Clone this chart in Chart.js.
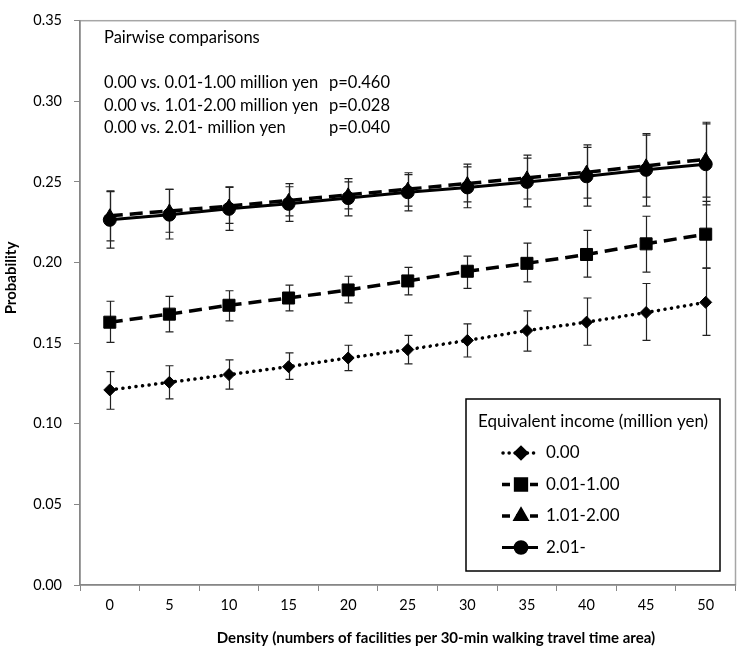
<!DOCTYPE html>
<html>
<head>
<meta charset="utf-8">
<script src="https://cdn.jsdelivr.net/npm/chart.js@4"></script>
<style>
  html, body { margin: 0; padding: 0; background: #fff; }
  #wrap { width: 745px; height: 650px; }
</style>
</head>
<body>
<div id="wrap"><canvas id="chart" width="745" height="650"></canvas></div>
<script>
// ----------------------------------------------------
// Data
// ----------------------------------------------------
const densities = ['0', '5', '10', '15', '20', '25', '30', '35', '40', '45', '50'];

const income000 = [0.121, 0.1257, 0.1305, 0.1354, 0.1408, 0.146, 0.1517, 0.1578, 0.163, 0.169, 0.1753];
const income000Lo = [0.109, 0.1155, 0.1215, 0.1275, 0.133, 0.1372, 0.1414, 0.145, 0.1487, 0.1517, 0.1548];
const income000Hi = [0.1324, 0.136, 0.1396, 0.144, 0.1487, 0.1548, 0.162, 0.170, 0.178, 0.187, 0.1965];

const income001 = [0.163, 0.168, 0.1735, 0.178, 0.183, 0.1886, 0.1946, 0.1995, 0.205, 0.2116, 0.2176];
const income001Lo = [0.1505, 0.157, 0.1638, 0.170, 0.175, 0.180, 0.184, 0.188, 0.191, 0.194, 0.1965];
const income001Hi = [0.176, 0.179, 0.1825, 0.186, 0.1915, 0.197, 0.204, 0.212, 0.220, 0.2287, 0.238];

const income101 = [0.229, 0.232, 0.235, 0.2385, 0.242, 0.2455, 0.249, 0.2525, 0.256, 0.260, 0.264];
const income101Lo = [0.2134, 0.2188, 0.2243, 0.229, 0.2333, 0.235, 0.2376, 0.2394, 0.240, 0.2406, 0.2406];
const income101Hi = [0.2445, 0.2454, 0.247, 0.249, 0.252, 0.2557, 0.261, 0.2666, 0.273, 0.280, 0.287];

const income201 = [0.2265, 0.2297, 0.2333, 0.2364, 0.240, 0.2436, 0.2466, 0.250, 0.2535, 0.2575, 0.261];
const income201Lo = [0.209, 0.2146, 0.220, 0.2255, 0.229, 0.232, 0.234, 0.2345, 0.235, 0.235, 0.2358];
const income201Hi = [0.244, 0.2454, 0.2466, 0.247, 0.250, 0.2545, 0.2593, 0.2648, 0.2714, 0.279, 0.286];

const seriesLabels = ['0.00', '0.01-1.00', '1.01-2.00', '2.01-'];
const legendTitle = 'Equivalent income (million yen)';

const noteTitle = 'Pairwise comparisons';
const comparisons = ['0.00 vs. 0.01-1.00 million yen', '0.00 vs. 1.01-2.00 million yen', '0.00 vs. 2.01- million yen'];
const pValues = ['p=0.460', 'p=0.028', 'p=0.040'];

const xTitle = 'Density (numbers of facilities per 30-min walking travel time area)';
const yTitle = 'Probability';

const FONT = 'Lato, "Open Sans", sans-serif';

// ----------------------------------------------------
// Datasets
// ----------------------------------------------------
const lows = [income000Lo, income001Lo, income101Lo, income201Lo];
const highs = [income000Hi, income001Hi, income101Hi, income201Hi];

const datasets = [
    {
        label: seriesLabels[0], data: income000, order: 3,
        borderColor: '#000', backgroundColor: '#000', borderWidth: 3.5,
        borderDash: [0.1, 6.5], borderCapStyle: 'round',
        pointStyle: 'rectRot', pointRadius: 6, pointBorderWidth: 1
    },
    {
        label: seriesLabels[1], data: income001, order: 2,
        borderColor: '#000', backgroundColor: '#000', borderWidth: 3.5,
        borderDash: [13, 7],
        pointStyle: 'rect', pointRadius: 8.5, pointBorderWidth: 1
    },
    {
        label: seriesLabels[2], data: income101, order: 1,
        borderColor: '#000', backgroundColor: '#000', borderWidth: 3.5,
        borderDash: [13, 7],
        pointStyle: 'triangle', pointRadius: 7, pointBorderWidth: 1
    },
    {
        label: seriesLabels[3], data: income201, order: 0,
        borderColor: '#000', backgroundColor: '#000', borderWidth: 3,
        pointStyle: 'circle', pointRadius: 6.5, pointBorderWidth: 1
    }
];
datasets.forEach(d => { d.tension = 0; d.pointHoverRadius = d.pointRadius; });

// ----------------------------------------------------
// Plugins: error bars, frame, notes, legend box
// ----------------------------------------------------
const errorBars = {
    id: 'errorBars',
    beforeDatasetsDraw(chart) {
        const ctx = chart.ctx;
        const xs = chart.scales.x;
        const ys = chart.scales.y;
        ctx.save();
        ctx.strokeStyle = '#222';
        ctx.lineWidth = 1.2;
        lows.forEach((lo, s) => {
            lo.forEach((v, i) => {
                const x = Math.round(xs.getPixelForValue(i)) + 0.5;
                const y1 = ys.getPixelForValue(v);
                const y2 = ys.getPixelForValue(highs[s][i]);
                ctx.beginPath();
                ctx.moveTo(x, y1); ctx.lineTo(x, y2);
                ctx.moveTo(x - 4, y1); ctx.lineTo(x + 4, y1);
                ctx.moveTo(x - 4, y2); ctx.lineTo(x + 4, y2);
                ctx.stroke();
            });
        });
        ctx.restore();
    }
};

const frameAndNotes = {
    id: 'frameAndNotes',
    beforeDraw(chart) {
        const a = chart.chartArea;
        const ctx = chart.ctx;
        ctx.save();
        ctx.strokeStyle = '#a6a6a6';
        ctx.lineWidth = 1.5;
        ctx.strokeRect(a.left, a.top, a.right - a.left, a.bottom - a.top);
        ctx.restore();
    },
    afterDraw(chart) {
        const ctx = chart.ctx;
        ctx.save();
        ctx.fillStyle = '#000';
        ctx.textBaseline = 'middle';
        ctx.textAlign = 'left';

        // axis titles
        ctx.font = 'bold 15px ' + FONT;
        ctx.textAlign = 'center';
        ctx.fillText(xTitle, 436, 638);
        ctx.save();
        ctx.translate(11, 278);
        ctx.rotate(-Math.PI / 2);
        ctx.fillText(yTitle, 0, 0);
        ctx.restore();
        ctx.textAlign = 'left';

        // pairwise notes
        ctx.font = '16.5px ' + FONT;
        ctx.fillText(noteTitle, 104, 38);
        comparisons.forEach((c, i) => {
            ctx.fillText(c, 104, 83 + i * 22.5);
            ctx.fillText(pValues[i], 329, 83 + i * 22.5);
        });

        // legend box
        const bx = 466, by = 399, bw = 254, bh = 172;
        ctx.fillStyle = '#fff';
        ctx.fillRect(bx, by, bw, bh);
        ctx.strokeStyle = '#000';
        ctx.lineWidth = 1.5;
        ctx.strokeRect(bx, by, bw, bh);
        ctx.fillStyle = '#000';
        ctx.font = '17px ' + FONT;
        ctx.fillText(legendTitle, 478, 422);
        chart.data.datasets.forEach((d, i) => {
            const y = 453 + i * 31.5;
            ctx.save();
            ctx.strokeStyle = '#000';
            ctx.lineWidth = d.borderWidth;
            ctx.lineCap = d.borderCapStyle || 'butt';
            ctx.setLineDash(d.borderDash ? (i === 0 ? [0.1, 6] : [8, 6]) : []);
            ctx.beginPath();
            ctx.moveTo(i === 0 ? 503 : 502, y);
            ctx.lineTo(538, y);
            ctx.stroke();
            ctx.setLineDash([]);
            ctx.fillStyle = '#000';
            Chart.helpers.drawPoint(ctx, {
                pointStyle: d.pointStyle, radius: d.pointRadius * 0.9, rotation: 0, borderWidth: 1
            }, 521, y);
            ctx.restore();
            ctx.fillText(d.label, 546, y);
        });
        ctx.restore();
    }
};

// ----------------------------------------------------
// Chart
// ----------------------------------------------------
new Chart(document.getElementById('chart'), {
    type: 'line',
    data: { labels: densities, datasets: datasets },
    plugins: [errorBars, frameAndNotes],
    options: {
        responsive: false,
        animation: false,
        events: [],
        layout: { padding: { top: 6, right: 3, left: 0, bottom: 0 } },
        plugins: {
            legend: { display: false },
            tooltip: { enabled: false }
        },
        scales: {
            x: {
                type: 'category',
                offset: true,
                grid: { offset: true, drawOnChartArea: false, drawTicks: true, tickLength: 6, color: '#868686' },
                border: { display: true, color: '#868686', width: 1.5 },
                ticks: { color: '#000', font: { family: FONT, size: 14.5 }, padding: 6, maxRotation: 0 },
                afterFit(scale) { scale.height = 65; }
            },
            y: {
                min: 0,
                max: 0.35,
                grid: { drawOnChartArea: false, drawTicks: true, tickLength: 6, color: '#868686' },
                border: { display: true, color: '#868686', width: 1.5 },
                ticks: {
                    stepSize: 0.05,
                    color: '#000',
                    font: { family: FONT, size: 14.5 },
                    padding: 12,
                    callback: v => v.toFixed(2)
                },
                afterFit(scale) { scale.width = 80; }
            }
        }
    }
});
</script>
</body>
</html>
